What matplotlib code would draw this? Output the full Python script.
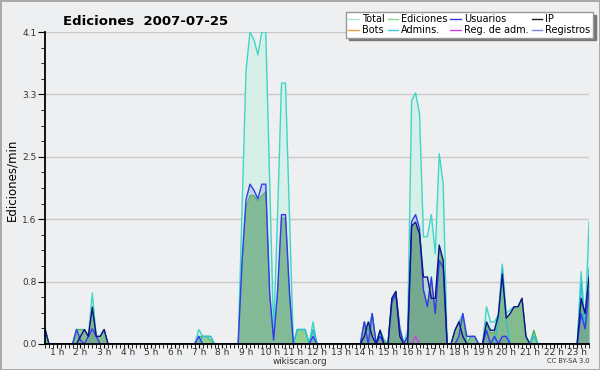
import numpy as np
import matplotlib
matplotlib.use("Agg")
from matplotlib import pyplot as plt
from matplotlib.lines import Line2D
from matplotlib.ticker import FixedLocator, MultipleLocator

# una muestra cada 10 min (0:30 -> 23:30), ediciones por minuto
horas = np.arange(139) / 6 + 0.5

total = [0.2, 0, 0, 0, 0, 0,
         0, 0, 0.19, 0.19, 0.19, 0.1,
         0.67, 0.1, 0.1, 0.19, 0, 0,
         0, 0, 0, 0, 0, 0,
         0, 0, 0, 0, 0, 0,
         0, 0, 0, 0, 0, 0,
         0, 0, 0, 0.19, 0.1, 0.1,
         0.1, 0, 0, 0, 0, 0,
         0, 0, 1.8, 3.6, 4.1, 4.0,
         3.8, 4.1, 4.1, 2.1, 0.14, 1.7,
         3.43, 3.43, 1.7, 0, 0.19, 0.19,
         0.19, 0, 0.29, 0, 0, 0,
         0, 0, 0, 0, 0, 0,
         0, 0, 0, 0.29, 0.17, 0.4,
         0, 0.18, 0.05, 0, 0.6, 0.69,
         0.23, 0, 0.18, 3.2, 3.3, 3.03,
         1.41, 1.41, 1.7, 1.19, 2.5, 2.11,
         0, 0, 0.18, 0.29, 0.4, 0,
         0.1, 0.1, 0, 0, 0.49, 0.29,
         0.29, 0.38, 1.05, 0.4, 0.45, 0.49,
         0.49, 0.6, 0.1, 0, 0.18, 0,
         0, 0, 0, 0, 0, 0,
         0, 0, 0, 0, 0.95, 0.25,
         1.6]

ediciones = [0.2, 0, 0, 0, 0, 0,
             0, 0, 0.19, 0.19, 0.19, 0.1,
             0.49, 0.1, 0.1, 0.19, 0, 0,
             0, 0, 0, 0, 0, 0,
             0, 0, 0, 0, 0, 0,
             0, 0, 0, 0, 0, 0,
             0, 0, 0, 0.1, 0.1, 0.1,
             0.05, 0, 0, 0, 0, 0,
             0, 0, 1.0, 1.8, 1.95, 1.95,
             1.88, 1.95, 2.0, 0.6, 0.05, 0.6,
             1.65, 1.65, 0.6, 0, 0.19, 0.19,
             0.19, 0, 0.19, 0, 0, 0,
             0, 0, 0, 0, 0, 0,
             0, 0, 0, 0.29, 0.17, 0.4,
             0, 0.18, 0.05, 0, 0.6, 0.69,
             0.2, 0, 0.1, 1.55, 1.55, 1.45,
             0.7, 0.5, 0.85, 0.4, 1.25, 1.05,
             0, 0, 0.18, 0.29, 0.35, 0,
             0.1, 0.1, 0, 0, 0.25, 0.15,
             0.15, 0.35, 0.9, 0.34, 0.4, 0.49,
             0.49, 0.6, 0.1, 0, 0.18, 0,
             0, 0, 0, 0, 0, 0,
             0, 0, 0, 0, 0.55, 0.25,
             0.85]

usuarios = [0, 0, 0, 0, 0, 0,
            0, 0, 0.19, 0.05, 0, 0.1,
            0.2, 0.1, 0, 0, 0, 0,
            0, 0, 0, 0, 0, 0,
            0, 0, 0, 0, 0, 0,
            0, 0, 0, 0, 0, 0,
            0, 0, 0, 0.1, 0, 0,
            0, 0, 0, 0, 0, 0,
            0, 0, 1.1, 1.9, 2.1, 2.02,
            1.91, 2.1, 2.1, 0.67, 0.05, 0.7,
            1.7, 1.7, 0.7, 0, 0, 0,
            0, 0, 0.1, 0, 0, 0,
            0, 0, 0, 0, 0, 0,
            0, 0, 0, 0.29, 0, 0.4,
            0, 0.1, 0, 0, 0.55, 0.65,
            0.2, 0, 0.1, 1.61, 1.7, 1.52,
            0.71, 0.49, 0.88, 0.4, 1.1, 1.0,
            0, 0, 0, 0.1, 0.4, 0.1,
            0.1, 0.1, 0, 0, 0.18, 0,
            0.1, 0, 0.1, 0.1, 0, 0,
            0, 0, 0, 0, 0, 0,
            0, 0, 0, 0, 0, 0,
            0, 0, 0, 0, 0.4, 0.2,
            0.7]

ip = [0.2, 0, 0, 0, 0, 0,
      0, 0, 0, 0.1, 0.19, 0.1,
      0.48, 0.1, 0.1, 0.19, 0, 0,
      0, 0, 0, 0, 0, 0,
      0, 0, 0, 0, 0, 0,
      0, 0, 0, 0, 0, 0,
      0, 0, 0, 0, 0, 0,
      0, 0, 0, 0, 0, 0,
      0, 0, 0, 0, 0, 0,
      0, 0, 0, 0, 0, 0,
      0, 0, 0, 0, 0, 0,
      0, 0, 0, 0, 0, 0,
      0, 0, 0, 0, 0, 0,
      0, 0, 0, 0.1, 0.29, 0.1,
      0, 0.18, 0, 0, 0.6, 0.69,
      0.1, 0, 0, 1.55, 1.6, 1.45,
      0.88, 0.88, 0.6, 0.6, 1.3, 1.1,
      0, 0, 0.18, 0.29, 0.1, 0,
      0, 0, 0, 0, 0.29, 0.18,
      0.18, 0.38, 0.92, 0.34, 0.4, 0.49,
      0.49, 0.6, 0.1, 0, 0, 0,
      0, 0, 0, 0, 0, 0,
      0, 0, 0, 0, 0.6, 0.4,
      0.88]

admins = [0, 0, 0, 0, 0, 0,
          0, 0, 0, 0, 0, 0,
          0, 0, 0, 0, 0, 0,
          0, 0, 0, 0, 0, 0,
          0, 0, 0, 0, 0, 0,
          0, 0, 0, 0, 0, 0,
          0, 0, 0, 0, 0.1, 0.1,
          0.1, 0, 0, 0, 0, 0,
          0, 0, 0, 0, 0, 0,
          0, 0, 0, 0, 0, 0,
          0, 0, 0, 0, 0.19, 0.19,
          0.19, 0, 0.19, 0, 0, 0,
          0, 0, 0, 0, 0, 0,
          0, 0, 0, 0, 0, 0,
          0, 0.18, 0, 0, 0, 0,
          0, 0, 0, 0, 0, 0,
          0, 0, 0, 0, 0, 0,
          0, 0, 0, 0, 0, 0,
          0, 0, 0, 0, 0, 0,
          0, 0.3, 1.0, 0.3, 0, 0,
          0, 0, 0, 0, 0.1, 0,
          0, 0, 0, 0, 0, 0,
          0, 0, 0, 0, 0.8, 0.2,
          1.0]

# solo un pico de Reg. de adm. hacia las 16 h
reg_adm = [0] * 139
reg_adm[94] = 0.1
bots = [0] * 139
registros = [0] * 139

y_ticks = [0, 0.82, 1.64, 2.46, 3.28, 4.1]
y_labels = ["0.0", "0.8", "1.6", "2.5", "3.3", "4.1"]
x_ticks = list(range(1, 24))
x_labels = [str(h) + " h" for h in x_ticks]

fondo = "#eeeff1"
fig = plt.figure(figsize=(6, 3.7), dpi=100, facecolor=fondo,
                 edgecolor="#a9a9a9", linewidth=2)
ax = fig.add_axes([0.075, 0.0703, 0.9067, 0.8432])
ax.set_facecolor(fondo)

ax.fill_between(horas, total, color="#d6efe8", lw=0, zorder=1)
ax.fill_between(horas, ediciones, color="#93cf93", lw=0, zorder=1.1)
ax.fill_between(horas, usuarios, color="#3050b0", alpha=0.16, lw=0, zorder=1.2)
ax.fill_between(horas, ip, color="#103060", alpha=0.12, lw=0, zorder=1.2)

lw = 1.0
ax.plot(horas, bots, color="#f0a040", lw=lw, zorder=2)
ax.plot(horas, registros, color="#8080f0", lw=lw, zorder=2)
ax.plot(horas, total, color="#3fd6c6", lw=lw, zorder=2.1)
ax.plot(horas, ediciones, color="#50b060", lw=0.8, zorder=2.2)
ax.plot(horas, reg_adm, color="#d040e0", lw=lw, zorder=2.2)
ax.plot(horas, admins, color="#2cc0d8", lw=lw, zorder=2.3)
ax.plot(horas, usuarios, color="#3838f0", lw=lw, zorder=2.4)
ax.plot(horas, ip, color="#10108c", lw=lw, zorder=2.5)

ax.set_xlim(0.5, 23.5)
ax.set_ylim(0, 4.1)
ax.yaxis.set_major_locator(FixedLocator(y_ticks))
ax.set_yticklabels(y_labels)
ax.yaxis.set_minor_locator(FixedLocator(np.arange(21) * 0.205))
ax.set_xticks(x_ticks)
ax.set_xticklabels(x_labels)
ax.xaxis.set_minor_locator(MultipleLocator(1 / 6))
ax.grid(axis="y", color="#c9c9c9", lw=1)
ax.set_axisbelow(True)

for s in ["top", "right"]:
    ax.spines[s].set_visible(False)
for s in ["left", "bottom"]:
    ax.spines[s].set_linewidth(1.3)
    ax.spines[s].set_zorder(5)

ax.tick_params(axis="y", which="major", length=5, labelsize=6.5, pad=1, labelcolor="#333333")
ax.tick_params(axis="y", which="minor", length=3)
ax.tick_params(axis="x", which="both", length=3, labelsize=6.5, pad=0, labelcolor="#333333")

fig.text(0.242, 0.942, "Ediciones  2007-07-25", fontsize=9.5, fontweight="bold",
         ha="center", va="center")
fig.text(0.02, 0.513, "Ediciones/min", rotation=90, fontsize=8.5, ha="center", va="center")
fig.text(0.5, 0.024, "wikiscan.org", fontsize=6.3, ha="center", va="center", color="#333333")
fig.text(0.983, 0.024, "CC BY-SA 3.0", fontsize=4.8, ha="right", va="center", color="#333333")

# leyenda: se rellena por columnas
orden = [("Total", "#a8e8e0"), ("Bots", "#f0a040"),
         ("Ediciones", "#90d890"), ("Admins.", "#40c8e0"),
         ("Usuarios", "#3838e0"), ("Reg. de adm.", "#d040e0"),
         ("IP", "#222222"), ("Registros", "#8080f0")]
handles = [Line2D([], [], color=c, lw=1) for _, c in orden]
leg = fig.legend(handles, [n for n, _ in orden], ncol=4, loc="upper right",
                 bbox_to_anchor=(0.988, 0.968), fontsize=7, frameon=True,
                 fancybox=False, shadow={"color": "#777777", "alpha": 1},
                 handlelength=1.1, handletextpad=0.3, columnspacing=0.3,
                 labelspacing=0.1, borderpad=0.25, borderaxespad=0)
leg.get_frame().set_edgecolor("#999999")
leg.get_frame().set_linewidth(1)

fig.savefig("out.png", dpi=100, facecolor=fig.get_facecolor(), edgecolor=fig.get_edgecolor())
